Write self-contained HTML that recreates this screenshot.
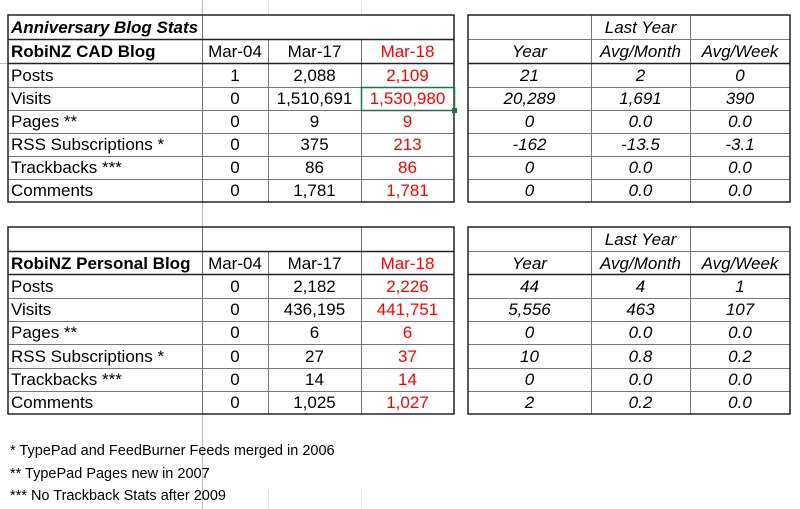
<!DOCTYPE html>
<html><head><meta charset="utf-8"><style>
html,body{margin:0;padding:0;background:#fff;}
svg{display:block;font-family:"Liberation Sans",Arial,sans-serif;}
.t{font-size:17px;fill:#000;}
.r{fill:#ff0000;}
.i{font-style:italic;}
.b{font-weight:bold;}
.f{font-size:14.5px;}
</style></head><body>
<svg width="800" height="509" viewBox="0 0 800 509" xmlns="http://www.w3.org/2000/svg">
<rect width="800" height="509" fill="#fff"/>
<g stroke="#e3e3e3" stroke-width="1">
<line x1="268.5" y1="0" x2="268.5" y2="15"/><line x1="361.5" y1="0" x2="361.5" y2="15"/>
<line x1="268.5" y1="490" x2="268.5" y2="509"/><line x1="361.5" y1="490" x2="361.5" y2="509"/>
</g>
<line x1="202.5" y1="0" x2="202.5" y2="509" stroke="#bdbdbd" stroke-width="1.2"/>
<line x1="0" y1="63.5" x2="8" y2="63.5" stroke="#bdbdbd" stroke-width="1"/>

<g stroke="#777" stroke-width="1">
<line x1="202.5" y1="15" x2="202.5" y2="202"/>
<line x1="268.5" y1="39" x2="268.5" y2="202"/>
<line x1="361.5" y1="39" x2="361.5" y2="202"/>
<line x1="8" y1="87.5" x2="454" y2="87.5"/>
<line x1="8" y1="110.5" x2="454" y2="110.5"/>
<line x1="8" y1="133.5" x2="454" y2="133.5"/>
<line x1="8" y1="156.5" x2="454" y2="156.5"/>
<line x1="8" y1="179.5" x2="454" y2="179.5"/>
</g>
<g stroke="#222" stroke-width="1.5" fill="none">
<line x1="8" y1="39.5" x2="454" y2="39.5"/>
<line x1="8" y1="63.5" x2="454" y2="63.5"/>
<rect x="8" y="15" width="446" height="187"/>
</g>
<rect x="361.5" y="87.5" width="93" height="23" fill="none" stroke="#217346" stroke-width="1.5"/>
<rect x="452" y="108" width="5" height="5" fill="#217346"/>

<g stroke="#777" stroke-width="1">
<line x1="591.5" y1="15" x2="591.5" y2="202"/>
<line x1="690.5" y1="15" x2="690.5" y2="202"/>
<line x1="468" y1="87.5" x2="790" y2="87.5"/>
<line x1="468" y1="110.5" x2="790" y2="110.5"/>
<line x1="468" y1="133.5" x2="790" y2="133.5"/>
<line x1="468" y1="156.5" x2="790" y2="156.5"/>
<line x1="468" y1="179.5" x2="790" y2="179.5"/>
<line x1="468" y1="39.5" x2="790" y2="39.5"/>
</g>
<g stroke="#222" stroke-width="1.5" fill="none">
<line x1="468" y1="63.5" x2="790" y2="63.5"/>
<rect x="468" y="15" width="322" height="187"/>
</g>

<g stroke="#777" stroke-width="1">
<line x1="202.5" y1="227" x2="202.5" y2="414"/>
<line x1="268.5" y1="251" x2="268.5" y2="414"/>
<line x1="361.5" y1="227" x2="361.5" y2="414"/>
<line x1="8" y1="298.5" x2="454" y2="298.5"/>
<line x1="8" y1="321.5" x2="454" y2="321.5"/>
<line x1="8" y1="344.5" x2="454" y2="344.5"/>
<line x1="8" y1="368.5" x2="454" y2="368.5"/>
<line x1="8" y1="391.5" x2="454" y2="391.5"/>
</g>
<g stroke="#222" stroke-width="1.5" fill="none">
<line x1="8" y1="251.5" x2="454" y2="251.5"/>
<line x1="8" y1="274.5" x2="454" y2="274.5"/>
<rect x="8" y="227" width="446" height="187"/>
</g>

<g stroke="#777" stroke-width="1">
<line x1="591.5" y1="227" x2="591.5" y2="414"/>
<line x1="690.5" y1="227" x2="690.5" y2="414"/>
<line x1="468" y1="251.5" x2="790" y2="251.5"/>
<line x1="468" y1="298.5" x2="790" y2="298.5"/>
<line x1="468" y1="321.5" x2="790" y2="321.5"/>
<line x1="468" y1="344.5" x2="790" y2="344.5"/>
<line x1="468" y1="368.5" x2="790" y2="368.5"/>
<line x1="468" y1="391.5" x2="790" y2="391.5"/>
</g>
<g stroke="#222" stroke-width="1.5" fill="none">
<line x1="468" y1="274.5" x2="790" y2="274.5"/>
<rect x="468" y="227" width="322" height="187"/>
</g>

<g class="t">
<text x="11" y="33" class="t i b">Anniversary Blog Stats</text>
<text x="11" y="57" class="t b">RobiNZ CAD Blog</text>
<g text-anchor="middle">
<text x="235" y="57">Mar-04</text><text x="314.5" y="57">Mar-17</text><text x="407.5" y="57" class="r">Mar-18</text>
</g>
<text x="11" y="81">Posts</text>
<text x="11" y="104">Visits</text>
<text x="11" y="127">Pages **</text>
<text x="11" y="150">RSS Subscriptions *</text>
<text x="11" y="173">Trackbacks ***</text>
<text x="11" y="196">Comments</text>
<g text-anchor="middle">
<text x="235" y="81">1</text><text x="314.5" y="81">2,088</text><text x="407.5" y="81" class="r">2,109</text>
<text x="235" y="104">0</text><text x="314.5" y="104">1,510,691</text><text x="407.5" y="104" class="r">1,530,980</text>
<text x="235" y="127">0</text><text x="314.5" y="127">9</text><text x="407.5" y="127" class="r">9</text>
<text x="235" y="150">0</text><text x="314.5" y="150">375</text><text x="407.5" y="150" class="r">213</text>
<text x="235" y="173">0</text><text x="314.5" y="173">86</text><text x="407.5" y="173" class="r">86</text>
<text x="235" y="196">0</text><text x="314.5" y="196">1,781</text><text x="407.5" y="196" class="r">1,781</text>
</g>
<g text-anchor="middle" class="i">
<text x="640.5" y="33">Last Year</text>
<text x="529.5" y="57">Year</text><text x="640.5" y="57">Avg/Month</text><text x="740" y="57">Avg/Week</text>
<text x="529.5" y="81">21</text><text x="640.5" y="81">2</text><text x="740" y="81">0</text>
<text x="529.5" y="104">20,289</text><text x="640.5" y="104">1,691</text><text x="740" y="104">390</text>
<text x="529.5" y="127">0</text><text x="640.5" y="127">0.0</text><text x="740" y="127">0.0</text>
<text x="529.5" y="150">-162</text><text x="640.5" y="150">-13.5</text><text x="740" y="150">-3.1</text>
<text x="529.5" y="173">0</text><text x="640.5" y="173">0.0</text><text x="740" y="173">0.0</text>
<text x="529.5" y="196">0</text><text x="640.5" y="196">0.0</text><text x="740" y="196">0.0</text>
</g>

<text x="11" y="269" class="t b">RobiNZ Personal Blog</text>
<g text-anchor="middle">
<text x="235" y="269">Mar-04</text><text x="314.5" y="269">Mar-17</text><text x="407.5" y="269" class="r">Mar-18</text>
</g>
<text x="11" y="292">Posts</text>
<text x="11" y="315">Visits</text>
<text x="11" y="338">Pages **</text>
<text x="11" y="362">RSS Subscriptions *</text>
<text x="11" y="385">Trackbacks ***</text>
<text x="11" y="408">Comments</text>
<g text-anchor="middle">
<text x="235" y="292">0</text><text x="314.5" y="292">2,182</text><text x="407.5" y="292" class="r">2,226</text>
<text x="235" y="315">0</text><text x="314.5" y="315">436,195</text><text x="407.5" y="315" class="r">441,751</text>
<text x="235" y="338">0</text><text x="314.5" y="338">6</text><text x="407.5" y="338" class="r">6</text>
<text x="235" y="362">0</text><text x="314.5" y="362">27</text><text x="407.5" y="362" class="r">37</text>
<text x="235" y="385">0</text><text x="314.5" y="385">14</text><text x="407.5" y="385" class="r">14</text>
<text x="235" y="408">0</text><text x="314.5" y="408">1,025</text><text x="407.5" y="408" class="r">1,027</text>
</g>
<g text-anchor="middle" class="i">
<text x="640.5" y="245">Last Year</text>
<text x="529.5" y="269">Year</text><text x="640.5" y="269">Avg/Month</text><text x="740" y="269">Avg/Week</text>
<text x="529.5" y="292">44</text><text x="640.5" y="292">4</text><text x="740" y="292">1</text>
<text x="529.5" y="315">5,556</text><text x="640.5" y="315">463</text><text x="740" y="315">107</text>
<text x="529.5" y="338">0</text><text x="640.5" y="338">0.0</text><text x="740" y="338">0.0</text>
<text x="529.5" y="362">10</text><text x="640.5" y="362">0.8</text><text x="740" y="362">0.2</text>
<text x="529.5" y="385">0</text><text x="640.5" y="385">0.0</text><text x="740" y="385">0.0</text>
<text x="529.5" y="408">2</text><text x="640.5" y="408">0.2</text><text x="740" y="408">0.0</text>
</g>

<text x="10" y="455" class="f">* TypePad and FeedBurner Feeds merged in 2006</text>
<text x="10" y="478" class="f">** TypePad Pages new in 2007</text>
<text x="10" y="500" class="f">*** No Trackback Stats after 2009</text>
</g>
</svg>
</body></html>
